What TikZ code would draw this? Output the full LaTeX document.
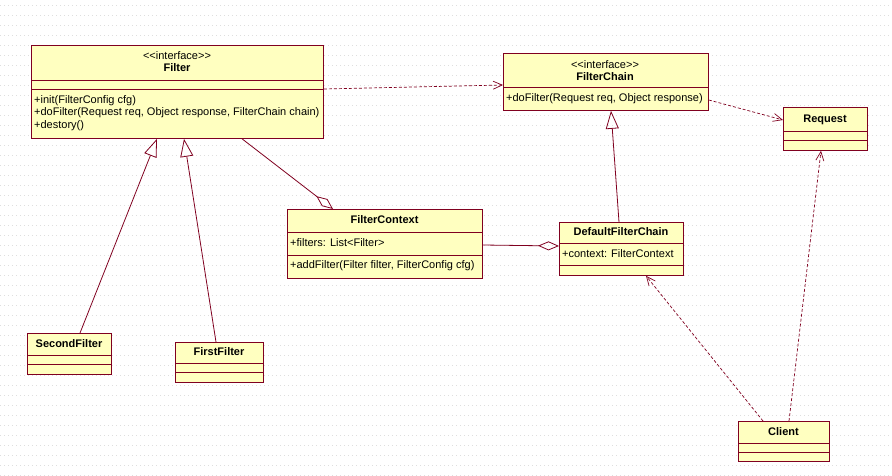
\documentclass[tikz,border=0pt]{standalone}
\usepackage{fontspec}
\setmainfont{Liberation Sans}
\usetikzlibrary{arrows.meta,
                positioning,
                calc}

\definecolor{umlline}{RGB}{128,0,32}
\definecolor{umlfill}{RGB}{255,255,192}
\definecolor{gridgray}{RGB}{222,222,222}

\tikzset{
    classbox/.style={draw=umlline, fill=umlfill, line width=0.8pt, inner sep=0pt, anchor=north west},
    compline/.style={draw=umlline, line width=0.8pt},
    member/.style={inner sep=0pt, anchor=west, font=\fontsize{11}{13}\selectfont},
    classname/.style={inner sep=0pt, font=\fontsize{11}{13}\selectfont\bfseries},
    stereo/.style={inner sep=0pt, font=\fontsize{11}{13}\selectfont},
    depend/.style={draw=umlline, line width=0.7pt, dash pattern=on 3pt off 2pt,
                   -{Straight Barb[length=9pt, width=8pt, line width=0.7pt]}},
    generalize/.style={draw=umlline, line width=0.8pt,
                   -{Triangle[open, length=18pt, width=13pt, line width=0.8pt]}},
    aggregate/.style={draw=umlline, line width=0.8pt,
                   -{Diamond[open, length=21pt, width=9pt, line width=0.8pt]}},
    gridrow/.style={draw=gridgray, line width=0.6pt, dash pattern=on 0.8pt off 3.2pt}
}

\begin{document}
\begin{tikzpicture}[x=1pt, y=-1pt]
    \useasboundingbox (0, 0) rectangle (892, 476);
    \fill[white] (0, 0) rectangle (892, 476);
    % background grid
    \foreach \y in {5, 15, ..., 475}
        \draw[gridrow] (0, \y) -- (892, \y);

    % Filter
    \node[classbox, minimum width=292pt, minimum height=93pt] (filter) at (31, 45) {};
    \draw[compline] ($(filter.north west)+(0, 35)$) -- ($(filter.north east)+(0, 35)$);
    \draw[compline] ($(filter.north west)+(0, 44)$) -- ($(filter.north east)+(0, 44)$);
    \node[stereo] at (177, 56) {{<}{<}interface{>}{>}};
    \node[classname] at (177, 68) {Filter};
    \node[member] at (34, 101) {+init(FilterConfig cfg)};
    \node[member] at (34, 113) {+doFilter(Request req, Object response, FilterChain chain)};
    \node[member] at (34, 126) {+destory()};

    % FilterChain
    \node[classbox, minimum width=205pt, minimum height=57pt] (chain) at (503, 53) {};
    \draw[compline] ($(chain.north west)+(0, 34)$) -- ($(chain.north east)+(0, 34)$);
    \node[stereo] at (605, 65) {{<}{<}interface{>}{>}};
    \node[classname] at (605, 77) {FilterChain};
    \node[member] at (506, 99) {+doFilter(Request req, Object response)};

    % Request
    \node[classbox, minimum width=84pt, minimum height=43pt] (request) at (783, 107) {};
    \draw[compline] ($(request.north west)+(0, 24)$) -- ($(request.north east)+(0, 24)$);
    \draw[compline] ($(request.north west)+(0, 33)$) -- ($(request.north east)+(0, 33)$);
    \node[classname] at (825, 120) {Request};

    % FilterContext
    \node[classbox, minimum width=195pt, minimum height=69pt] (context) at (287, 209) {};
    \draw[compline] ($(context.north west)+(0, 23)$) -- ($(context.north east)+(0, 23)$);
    \draw[compline] ($(context.north west)+(0, 46)$) -- ($(context.north east)+(0, 46)$);
    \node[classname] at (384.5, 220) {FilterContext};
    \node[member] at (290, 243) {+filters: List{<}Filter{>}};
    \node[member] at (290, 266) {+addFilter(Filter filter, FilterConfig cfg)};

    % DefaultFilterChain
    \node[classbox, minimum width=124pt, minimum height=53pt] (default) at (559, 222) {};
    \draw[compline] ($(default.north west)+(0, 21)$) -- ($(default.north east)+(0, 21)$);
    \draw[compline] ($(default.north west)+(0, 43)$) -- ($(default.north east)+(0, 43)$);
    \node[classname] at (621, 232) {DefaultFilterChain};
    \node[member] at (562, 254) {+context: FilterContext};

    % SecondFilter
    \node[classbox, minimum width=84pt, minimum height=41pt] (second) at (27, 333) {};
    \draw[compline] ($(second.north west)+(0, 22)$) -- ($(second.north east)+(0, 22)$);
    \draw[compline] ($(second.north west)+(0, 31)$) -- ($(second.north east)+(0, 31)$);
    \node[classname] at (69, 344) {SecondFilter};

    % FirstFilter
    \node[classbox, minimum width=88pt, minimum height=40pt] (first) at (175, 342) {};
    \draw[compline] ($(first.north west)+(0, 21)$) -- ($(first.north east)+(0, 21)$);
    \draw[compline] ($(first.north west)+(0, 30)$) -- ($(first.north east)+(0, 30)$);
    \node[classname] at (219, 352) {FirstFilter};

    % Client
    \node[classbox, minimum width=91pt, minimum height=40pt] (client) at (738, 421) {};
    \draw[compline] ($(client.north west)+(0, 22)$) -- ($(client.north east)+(0, 22)$);
    \draw[compline] ($(client.north west)+(0, 31)$) -- ($(client.north east)+(0, 31)$);
    \node[classname] at (783.5, 432) {Client};

    % relations
    \draw[depend] ($(filter.north east)+(0, 44)$) -- ($(chain.north west)+(0, 32)$);
    \draw[depend] ($(chain.north east)+(0, 47)$) -- ($(request.north west)+(0, 13)$);
    \draw[generalize] ($(second.north west)+(53, 0)$) -- ($(filter.south west)+(126, 0)$);
    \draw[generalize] ($(first.north west)+(41, 0)$) -- ($(filter.south west)+(153, 0)$);
    \draw[generalize] ($(default.north west)+(60, 0)$) -- ($(chain.south west)+(108, 0)$);
    \draw[aggregate] ($(filter.south west)+(211, 0)$) -- ($(context.north west)+(46, 0)$);
    \draw[aggregate] ($(context.north east)+(0, 36)$) -- ($(default.north west)+(0, 24)$);
    \draw[depend] ($(client.north west)+(25, 0)$) -- ($(default.south west)+(87, 0)$);
    \draw[depend] ($(client.north west)+(51, 0)$) -- ($(request.south west)+(38, 0)$);
\end{tikzpicture}
\end{document}
